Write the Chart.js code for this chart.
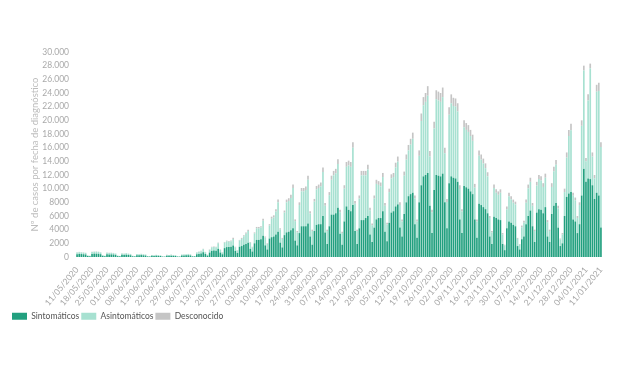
<!DOCTYPE html>
<html><head><meta charset="utf-8">
<script src="https://cdn.jsdelivr.net/npm/chart.js@4.4.1/dist/chart.umd.min.js"></script>
<style>html,body{margin:0;padding:0;background:#fff;}#wrap{width:620px;height:368px;}</style>
</head><body><div id="wrap"><canvas id="c" width="620" height="368"></canvas></div>
<script>
const tickLabels = ['11/05/2020','18/05/2020','25/05/2020','01/06/2020','08/06/2020','15/06/2020','22/06/2020','29/06/2020','06/07/2020','13/07/2020','20/07/2020','27/07/2020','03/08/2020','10/08/2020','17/08/2020','24/08/2020','31/08/2020','07/09/2020','14/09/2020','21/09/2020','28/09/2020','05/10/2020','12/10/2020','19/10/2020','26/10/2020','02/11/2020','09/11/2020','16/11/2020','23/11/2020','30/11/2020','07/12/2020','14/12/2020','21/12/2020','28/12/2020','04/01/2021','11/01/2021'];

const sintomaticos = [
420,450,430,400,370,150,120, 450,480,480,460,410,160,120, 390,370,380,360,310,130,100, 330,300,340,300,260,110,80,
270,250,280,250,220,90,70, 180,160,190,170,150,60,50, 190,180,200,170,160,70,60, 220,230,240,260,230,90,90,
400,450,520,700,450,200,650, 900,950,900,1200,650,400,1300, 1450,1450,1500,1700,900,600,1500, 1600,1800,1900,2100,1200,800,2000,
2500,2500,2600,3100,1700,1100,2700, 2900,3000,3300,3700,2100,1400,3200, 3600,3700,3900,4200,2400,1700,3500, 4500,4500,4500,4900,3000,1800,3800,
4700,4800,4800,6000,3600,1900,4500, 6200,6200,6400,7200,3400,1800,5200, 7400,6900,6700,7600,3800,1900,4200, 5400,5400,5700,6000,3300,2200,4300,
5500,5700,5700,6700,3700,2300,5000, 6500,6700,7400,7700,4300,3000,6300, 8000,8900,9200,9400,4800,2800,8000, 10500,11800,12000,12300,7500,3500,9800,
12000,11900,11800,12200,8000,4200,10800, 11800,11600,11500,11000,5500,3500,10400, 10200,10000,9600,9200,5500,2800,7800,
7600,7300,7000,6400,3000,1900,5900, 5700,5500,5400,1900,1000,4200,5200, 5000,4700,4500,1600,1100,2600,3000,
4800,6000,6800,4500,2200,6500,7000, 6900,6400,7300,3000,2200,6300,7500, 7900,4300,1600,2000,6000,8800,9300,
9500,5500,5200,3500,4800,9000,12900, 11000,11500,11400,10500,8500,9400,9000, 4300];

const asintomaticos = [
240,260,250,240,220,85,70, 270,280,300,280,250,105,70, 230,220,230,210,180,80,50, 200,190,210,170,170,60,50,
160,160,170,150,140,50,40, 100,100,110,100,100,40,30, 120,110,130,110,100,40,30, 140,150,160,170,150,60,50,
260,310,330,440,260,130,400, 520,520,520,800,390,260,800, 850,800,800,950,520,350,900, 1050,1250,1500,1700,900,620,1450,
1700,1700,1700,2200,1150,800,1900, 2700,2800,3350,4300,1900,1250,3300, 4400,4500,4750,5900,2850,1900,4100, 5100,5100,5300,6400,3350,2000,4300,
5200,5300,5550,6450,3900,1900,4550, 5100,5750,5850,6400,3150,1700,4800, 5800,6500,6500,8400,4000,1900,4350, 6550,6550,6250,6800,3550,2450,4250,
5200,4850,4650,5000,3800,2450,4500, 5000,5000,5700,6250,3300,2200,5600, 6250,6700,7250,7900,3750,2400,6800, 9400,10400,10700,11300,7200,3050,9000,
11100,11000,10900,11200,7200,3850,10000, 10700,10500,10500,10300,4450,3150,8600, 8400,8300,8100,7800,4650,2400,7000,
6650,6400,6000,5400,2700,1700,4200, 3700,3600,4000,1400,700,2800,3700, 3450,3250,3200,1050,700,1750,2000,
3150,4050,4200,3000,1600,3950,4400, 4300,3850,4300,2100,1600,3950,5050, 5600,2800,950,1300,3500,5750,8400,
9050,3450,3100,2200,2800,10200,14400, 3000,11400,16200,4200,3000,14800,15300, 11800];

const desconocido = [
40,40,40,40,30,15,10, 40,40,40,40,40,15,10, 30,30,30,30,30,10,10, 30,30,30,30,20,10,10,
20,20,20,20,20,10,10, 20,20,20,20,10,10,10, 20,20,20,20,20,10,10, 20,20,20,20,20,10,10,
40,40,50,60,40,20,50, 80,80,80,100,60,40,100, 100,100,100,150,80,50,100, 150,150,200,200,100,80,150,
200,200,200,300,150,100,200, 300,300,350,400,200,150,300, 400,400,450,500,250,200,400, 500,500,500,600,350,200,400,
500,500,550,650,400,200,450, 600,650,650,700,350,200,500, 700,700,700,800,400,200,450, 650,650,650,700,350,250,450,
600,550,550,600,400,250,500, 600,600,700,750,400,300,600, 750,800,850,900,450,300,800, 1100,1200,1300,1400,800,350,1000,
1300,1300,1300,1400,800,450,1100, 1300,1200,1200,1200,550,350,1000, 1000,1000,900,900,550,300,800,
750,700,700,600,300,200,500, 500,500,500,200,100,400,500, 450,450,400,150,100,250,300,
450,550,600,400,200,550,600, 600,550,600,300,200,550,650, 700,400,150,200,500,750,900,
950,450,400,300,400,800,700, 500,900,700,600,500,1000,1200, 700];

// daily categories from 11/05/2020
const categories = [];
(function(){
  const d0 = Date.UTC(2020,4,11);
  for (let i = 0; i < sintomaticos.length; i++) {
    const d = new Date(d0 + i*86400000);
    const dd = String(d.getUTCDate()).padStart(2,'0');
    const mm = String(d.getUTCMonth()+1).padStart(2,'0');
    categories.push(dd + '/' + mm + '/' + d.getUTCFullYear());
  }
})();

const FONT = "Lato, 'Liberation Sans', sans-serif";
const fmt = v => v >= 10000 ? String(v).replace(/\B(?=(\d{3})+(?!\d))/g, '.') : String(v);

const legendShift = {
  id: 'legendShift',
  afterLayout(chart) {
    if (chart.legend) { chart.legend.left += 10; chart.legend.right += 10; }
  }
};

new Chart(document.getElementById('c'), {
  type: 'bar',
  data: {
    labels: categories,
    datasets: [
      {label: 'Sintomáticos', data: sintomaticos, backgroundColor: '#22a07f'},
      {label: 'Asintomáticos', data: asintomaticos, backgroundColor: '#a7e1d1'},
      {label: 'Desconocido', data: desconocido, backgroundColor: '#c5c5c5'}
    ]
  },
  options: {
    responsive: false,
    animation: false,
    devicePixelRatio: 1,
    barPercentage: 0.78,
    categoryPercentage: 1.0,
    layout: {padding: {top: 52, right: 18, bottom: 37.5, left: 0}},
    plugins: {
      legend: {
        position: 'bottom', align: 'start',
        labels: {boxWidth: 15, boxHeight: 7, padding: 2, color: '#555', font: {family: FONT, size: 8.5}}
      },
      tooltip: {enabled: false}
    },
    scales: {
      x: {
        stacked: true,
        grid: {display: false, drawTicks: false, tickLength: 0}, border: {display: false},
        ticks: {
          autoSkip: false, maxRotation: 50, minRotation: 50, padding: 8,
          color: '#a6a6a6', font: {family: FONT, size: 8.5},
          callback: (v, i) => (i % 7 === 0 ? tickLabels[i / 7] : '')
        },
        afterFit: s => { s.height = 53; }
      },
      y: {
        stacked: true, min: 0, max: 30000,
        grid: {display: false, drawTicks: false, tickLength: 0}, border: {display: false},
        ticks: {autoSkip: false, stepSize: 2000, padding: 7, color: '#aaaaaa', font: {family: FONT, size: 8.5}, callback: v => fmt(v)},
        title: {display: true, text: 'Nº de casos por fecha de diagnóstico', color: '#bcbcbc', font: {family: FONT, size: 9.5}, padding: {top: 29, bottom: 0}},
        afterFit: s => { s.width = 76; }
      }
    }
  },
  plugins: [legendShift]
});
</script>
</body></html>
